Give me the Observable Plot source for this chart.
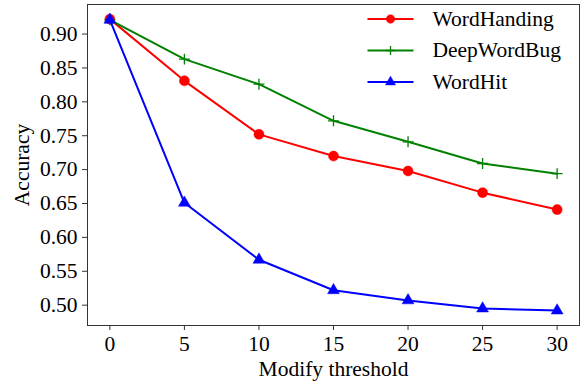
<!DOCTYPE html>
<html>
<head>
<meta charset="utf-8">
<script src="https://cdn.jsdelivr.net/npm/d3@7"></script>
<script src="https://cdn.jsdelivr.net/npm/@observablehq/plot@0.6"></script>
<style>
  html, body { margin: 0; padding: 0; background: #fff; }
  svg text { font-family: "Liberation Serif", "Times New Roman", serif; }
</style>
</head>
<body>
<div id="chart"></div>
<script>
const thresholds = [0, 5, 10, 15, 20, 25, 30];
const wordHanding = [0.922, 0.831, 0.752, 0.720, 0.698, 0.666, 0.641];
const deepWordBug = [0.921, 0.863, 0.826, 0.772, 0.741, 0.709, 0.694];
const wordHit = [0.921, 0.651, 0.567, 0.522, 0.507, 0.495, 0.492];
const seriesNames = ["WordHanding", "DeepWordBug", "WordHit"];
const seriesColors = ["#ff0000", "#008000", "#0000ff"];
const xTicks = [0, 5, 10, 15, 20, 25, 30];
const yTicks = [0.50, 0.55, 0.60, 0.65, 0.70, 0.75, 0.80, 0.85, 0.90];
const xLabel = "Modify threshold";
const yLabel = "Accuracy";

const FONT = "Liberation Serif";
const FS = 21.5;
const allValues = [wordHanding, deepWordBug, wordHit];
const rows = allValues.map((vals, i) =>
  thresholds.map((t, j) => ({x: t, y: vals[j], series: seriesNames[i]})));

const symbols = ["circle", "plus", "triangle"];
const radii = [5, 3.6, 4.4];
const lineSym = {draw(ctx) { ctx.moveTo(-23, 0); ctx.lineTo(23, 0); }};

const marks = [Plot.frame({stroke: "#333", strokeWidth: 1})];
rows.forEach((data, i) => {
  marks.push(Plot.line(data, {x: "x", y: "y", stroke: seriesColors[i], strokeWidth: 2}));
  const isStroke = symbols[i] === "plus";
  marks.push(Plot.dot(data, {
    x: "x", y: "y", symbol: () => symbols[i], r: radii[i],
    fill: isStroke ? "none" : seriesColors[i],
    stroke: seriesColors[i], strokeWidth: isStroke ? 1.3 : 0.5
  }));
});

// legend (frame-anchored)
const legendRowDy = [14.5, 46, 77.5];
seriesNames.forEach((name, i) => {
  const isStroke = symbols[i] === "plus";
  marks.push(Plot.dot([name], {frameAnchor: "top-right", dx: -189, dy: legendRowDy[i], symbol: () => lineSym, r: 1, stroke: seriesColors[i], strokeWidth: 2, fill: "none"}));
  marks.push(Plot.dot([name], {frameAnchor: "top-right", dx: -189, dy: legendRowDy[i], symbol: () => symbols[i], r: radii[i] * 0.85,
    fill: isStroke ? "none" : seriesColors[i], stroke: seriesColors[i], strokeWidth: isStroke ? 1.3 : 0.5}));
  marks.push(Plot.text([name], {frameAnchor: "top-right", dx: -147, dy: legendRowDy[i], text: d => d, textAnchor: "start", lineAnchor: "middle", fontSize: FS, fontFamily: FONT, fill: "#000"}));
});

marks.push(Plot.axisX({ticks: xTicks, tickSize: 5, tickPadding: 5, fontSize: FS, fontFamily: FONT, label: null, stroke: "#333"}));
marks.push(Plot.axisY({ticks: yTicks, tickSize: 5, tickPadding: 5, fontSize: FS, fontFamily: FONT, tickFormat: d3.format(".2f"), label: null, stroke: "#333"}));
marks.push(Plot.text([xLabel], {frameAnchor: "bottom", dy: 44, text: d => d, textAnchor: "middle", lineAnchor: "middle", fontSize: FS, fontFamily: FONT, fill: "#000"}));
marks.push(Plot.text([yLabel], {frameAnchor: "left", dx: -65, text: d => d, rotate: -90, textAnchor: "middle", lineAnchor: "middle", fontSize: FS, fontFamily: FONT, fill: "#000"}));

const chart = Plot.plot({
  width: 582,
  height: 381,
  marginLeft: 87,
  marginRight: 3,
  marginTop: 4,
  marginBottom: 56,
  style: {fontFamily: "'Liberation Serif', 'Times New Roman', serif", fontSize: "21px", color: "#000", background: "#fff"},
  x: {domain: [-1.5, 31.5]},
  y: {domain: [0.4700, 0.9436]},
  marks
});
document.getElementById("chart").appendChild(chart);
</script>
</body>
</html>
